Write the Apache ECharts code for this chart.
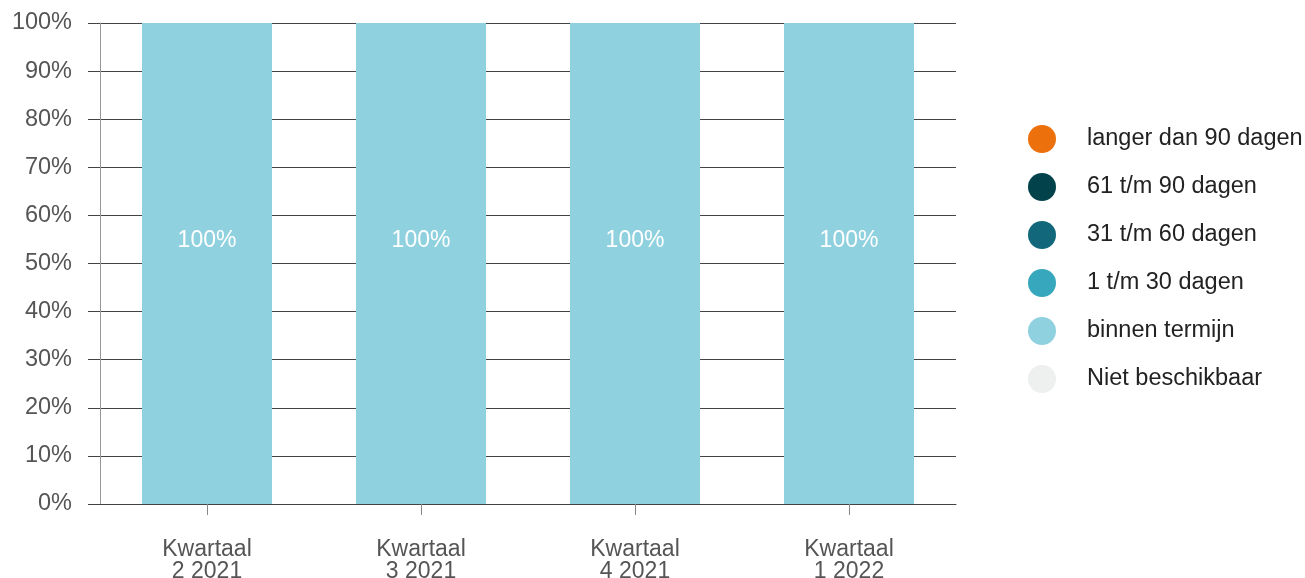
<!DOCTYPE html>
<html>
<head>
<meta charset="utf-8">
<script src="https://cdn.jsdelivr.net/npm/echarts@6/dist/echarts.min.js"></script>
<style>
  html, body { margin: 0; padding: 0; background: #fff; }
  #main { width: 1305px; height: 578px; }
</style>
</head>
<body>
<div id="main"></div>
<script>
// kwartalen op de x-as
const categories = ['Kwartaal\n2 2021', 'Kwartaal\n3 2021', 'Kwartaal\n4 2021', 'Kwartaal\n1 2022'];
const seriesNames = ['langer dan 90 dagen', '61 t/m 90 dagen', '31 t/m 60 dagen', '1 t/m 30 dagen', 'binnen termijn', 'Niet beschikbaar'];
const seriesColors = ['#EC700C', '#02434B', '#12687A', '#37A7BD', '#90D1DF', '#EEEFEF'];
// percentages per categorie
const langer90 = [0, 0, 0, 0];
const dagen61tm90 = [0, 0, 0, 0];
const dagen31tm60 = [0, 0, 0, 0];
const dagen1tm30 = [0, 0, 0, 0];
const binnenTermijn = [100, 100, 100, 100];
const nietBeschikbaar = [0, 0, 0, 0];
const yTicks = [0, 10, 20, 30, 40, 50, 60, 70, 80, 90, 100];

const seriesData = [langer90, dagen61tm90, dagen31tm60, dagen1tm30, binnenTermijn, nietBeschikbaar];
const font = "'Liberation Sans', Arial, sans-serif";

const myChart = echarts.init(document.getElementById('main'));

const option = {
  animation: false,
  textStyle: { fontFamily: font },
  grid: { left: 100, right: 349, top: 23, bottom: 74, containLabel: false, outerBoundsMode: 'none' },
  legend: {
    orient: 'vertical',
    left: 1023,
    top: 120,
    icon: 'circle',
    itemWidth: 28,
    itemHeight: 28,
    itemGap: 20,
    selectedMode: false,
    data: seriesNames,
    textStyle: { fontSize: 23.5, color: '#222', fontFamily: font, padding: [0, 0, 0, 26] }
  },
  xAxis: {
    type: 'category',
    data: categories,
    axisLine: { show: true, lineStyle: { color: '#444', width: 1 } },
    axisTick: { show: true, alignWithLabel: true, length: 11, inside: false, lineStyle: { color: '#888' } },
    axisLabel: { fontSize: 23, color: '#555', lineHeight: 22, margin: 35, fontFamily: font }
  },
  yAxis: {
    type: 'value',
    min: yTicks[0],
    max: yTicks[yTicks.length - 1],
    interval: 10,
    axisLine: { show: true, lineStyle: { color: '#999', width: 1 } },
    axisTick: { show: true, length: 12, lineStyle: { color: '#444' } },
    splitLine: { show: true, lineStyle: { color: '#444', width: 1 } },
    axisLabel: { fontSize: 23.5, color: '#555', margin: 28, fontFamily: font, formatter: '{value}%' }
  },
  series: seriesNames.map((name, i) => ({
    name: name,
    type: 'bar',
    stack: 'totaal',
    barWidth: 130,
    data: seriesData[i],
    itemStyle: { color: seriesColors[i] },
    label: {
      show: name === 'binnen termijn',
      position: 'inside',
      offset: [0, -23],
      color: '#fff',
      fontSize: 23,
      fontFamily: font,
      formatter: p => p.value > 0 ? p.value + '%' : ''
    }
  }))
};

myChart.setOption(option);
</script>
</body>
</html>
